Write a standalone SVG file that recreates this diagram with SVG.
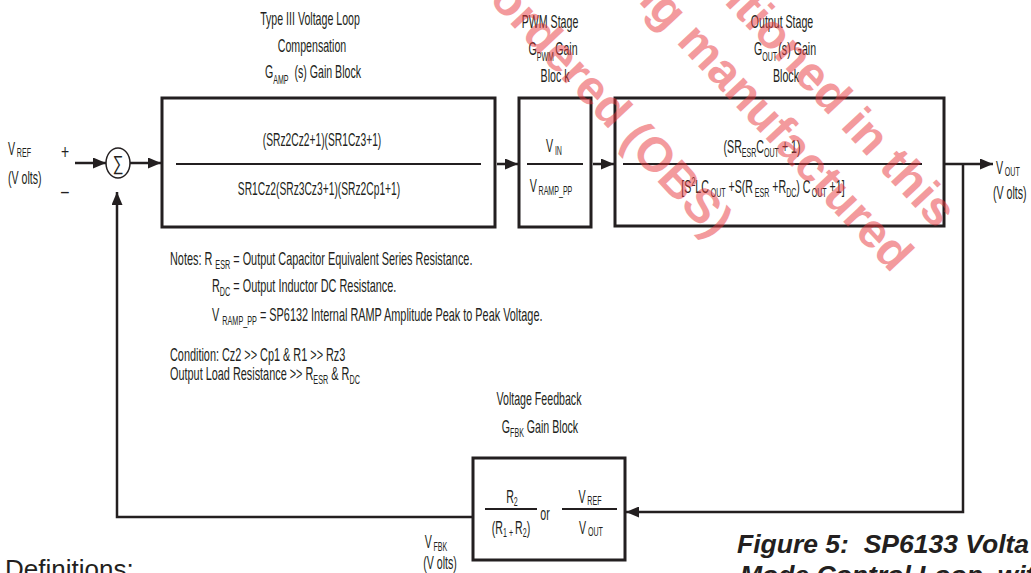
<svg xmlns="http://www.w3.org/2000/svg" width="1031" height="573" viewBox="0 0 1031 573">
<defs>
<style>
.t{font-family:"Liberation Sans",Arial,sans-serif;font-size:18px;fill:#231f20}
.s{font-size:12px}
.box{fill:none;stroke:#231f20;stroke-width:3}
.frac{stroke:#231f20;stroke-width:2}
.con{fill:none;stroke:#231f20;stroke-width:2.5}
.cap{font-family:"Liberation Sans",Arial,sans-serif;font-size:26.5px;font-weight:bold;font-style:italic;fill:#231f20}
.wm{font-family:"Liberation Sans",Arial,sans-serif;font-size:48px;font-weight:bold;fill:#e8383d;opacity:0.5}
</style>
<marker id="ah" markerUnits="userSpaceOnUse" markerWidth="13" markerHeight="11" refX="13" refY="5.5" orient="auto">
<path d="M0,0 L13,5.5 L0,11 z" fill="#231f20"/>
</marker>
</defs>
<rect width="1031" height="573" fill="#fff"/>

<g id="connectors">
<path class="con" d="M75,163 H106" marker-end="url(#ah)"/>
<path class="con" d="M130,163 H161" marker-end="url(#ah)"/>
<path class="con" d="M497,164 H518" marker-end="url(#ah)"/>
<path class="con" d="M593,164 H614" marker-end="url(#ah)"/>
<path class="con" d="M945,164 H993" marker-end="url(#ah)"/>
<path class="con" d="M963,164 V512 H626" marker-end="url(#ah)"/>
<path class="con" d="M473,517 H117 V192" marker-end="url(#ah)"/>
</g>

<g id="inputs">
<text class="t" transform="translate(8,155) scale(0.59,1)">V<tspan class="s" dx="3" dy="2">REF</tspan></text>
<text class="t" transform="translate(8,184) scale(0.59,1)">(V olts)</text>
<text class="t" transform="translate(65,159) scale(0.7,1)" text-anchor="middle" style="font-size:20px">+</text>
<text class="t" transform="translate(65,198) scale(0.7,1)" text-anchor="middle" style="font-size:20px">–</text>
</g>

<g id="sum">
<ellipse cx="118" cy="163" rx="12" ry="15" fill="#fff" stroke="#231f20" stroke-width="1.5"/>
<text class="t" transform="translate(118,170) scale(0.75,1)" text-anchor="middle" style="font-size:20px">∑</text>
</g>

<g id="compensation">
<text class="t" transform="translate(310,25) scale(0.59,1)" text-anchor="middle">Type III Voltage Loop</text>
<text class="t" transform="translate(312,52) scale(0.59,1)" text-anchor="middle">Compensation</text>
<text class="t" transform="translate(313,78) scale(0.59,1)" text-anchor="middle">G<tspan class="s" dy="6">AMP</tspan><tspan dy="-6" dx="10">(s) Gain Block</tspan></text>
<rect class="box" x="162" y="98" width="333" height="129"/>
<line class="frac" x1="176" y1="164" x2="481" y2="164"/>
<text class="t" transform="translate(322,146) scale(0.57,1)" text-anchor="middle">(SRz2Cz2+1)(SR1Cz3+1)</text>
<text class="t" transform="translate(319,195) scale(0.57,1)" text-anchor="middle">SR1Cz2(SRz3Cz3+1)(SRz2Cp1+1)</text>
</g>

<g id="pwm">
<text class="t" transform="translate(550,28) scale(0.59,1)" text-anchor="middle">PWM Stage</text>
<text class="t" transform="translate(553,55) scale(0.59,1)" text-anchor="middle">G<tspan class="s" dy="6">PWM</tspan><tspan dy="-6" dx="2">Gain</tspan></text>
<text class="t" transform="translate(555,82) scale(0.59,1)" text-anchor="middle">Bloc k</text>
<rect class="box" x="519" y="98" width="72" height="129"/>
<line class="frac" x1="527" y1="164" x2="583" y2="164"/>
<text class="t" transform="translate(554,152) scale(0.59,1)" text-anchor="middle">V<tspan class="s" dx="3" dy="3">IN</tspan></text>
<text class="t" transform="translate(551,192) scale(0.59,1)" text-anchor="middle">V<tspan class="s" dx="3" dy="3">RAMP_PP</tspan></text>
</g>

<g id="output">
<text class="t" transform="translate(782,28) scale(0.59,1)" text-anchor="middle">Output Stage</text>
<text class="t" transform="translate(785,55) scale(0.59,1)" text-anchor="middle">G<tspan class="s" dy="6">OUT</tspan><tspan dy="-6" dx="2">(s) Gain</tspan></text>
<text class="t" transform="translate(786,82) scale(0.59,1)" text-anchor="middle">Block</text>
<rect class="box" x="615" y="98" width="329" height="128"/>
<line class="frac" x1="623" y1="164" x2="922" y2="164"/>
<text class="t" transform="translate(762,153) scale(0.59,1)" text-anchor="middle">(SR<tspan class="s" dy="4">ESR</tspan><tspan dy="-4">C</tspan><tspan class="s" dy="4">OUT</tspan><tspan dy="-4"> + 1)</tspan></text>
<text class="t" transform="translate(763,193) scale(0.59,1)" text-anchor="middle">[S<tspan class="s" dy="-7">2</tspan><tspan dy="7">LC</tspan><tspan class="s" dx="3" dy="4">OUT</tspan><tspan dy="-4"> +S(R</tspan><tspan class="s" dx="3" dy="4">ESR</tspan><tspan dy="-4"> +R</tspan><tspan class="s" dy="4">DC</tspan><tspan dy="-4">) C</tspan><tspan class="s" dx="2" dy="4">OUT</tspan><tspan dy="-4"> +1]</tspan></text>
</g>

<g id="vout">
<text class="t" transform="translate(996,174) scale(0.59,1)">V<tspan class="s" dx="3" dy="2">OUT</tspan></text>
<text class="t" transform="translate(993,199) scale(0.59,1)">(V olts)</text>
</g>

<g id="notes">
<text class="t" transform="translate(170,265) scale(0.605,1)">Notes: R <tspan class="s" dy="4">ESR</tspan><tspan dy="-4"> = Output Capacitor Equivalent Series Resistance.</tspan></text>
<text class="t" transform="translate(212,292) scale(0.605,1)">R<tspan class="s" dy="4">DC</tspan><tspan dy="-4"> = Output Inductor DC Resistance.</tspan></text>
<text class="t" transform="translate(212,321) scale(0.605,1)">V <tspan class="s" dy="4">RAMP_PP</tspan><tspan dy="-4" dx="5">= SP6132 Internal RAMP Amplitude Peak to Peak Voltage.</tspan></text>
<text class="t" transform="translate(170,361) scale(0.605,1)">Condition: Cz2 &gt;&gt; Cp1 &amp; R1 &gt;&gt; Rz3</text>
<text class="t" transform="translate(170,380) scale(0.605,1)">Output Load Resistance &gt;&gt; R<tspan class="s" dy="4">ESR</tspan><tspan dy="-4"> &amp; R</tspan><tspan class="s" dy="4">DC</tspan></text>
</g>

<g id="feedback">
<text class="t" transform="translate(539,405) scale(0.59,1)" text-anchor="middle">Voltage Feedback</text>
<text class="t" transform="translate(540,433) scale(0.59,1)" text-anchor="middle">G<tspan class="s" dy="4">FBK</tspan><tspan dy="-4"> Gain Block</tspan></text>
<rect class="box" x="473" y="458" width="152" height="102"/>
<text class="t" transform="translate(512,503) scale(0.59,1)" text-anchor="middle">R<tspan class="s" dy="3">2</tspan></text>
<line class="frac" x1="485" y1="509" x2="537" y2="509"/>
<text class="t" transform="translate(511,534) scale(0.59,1)" text-anchor="middle">(R<tspan class="s" dy="3">1 + </tspan><tspan dy="-3">R</tspan><tspan class="s" dy="3">2</tspan><tspan dy="-3">)</tspan></text>
<text class="t" transform="translate(545,520) scale(0.59,1)" text-anchor="middle">or</text>
<text class="t" transform="translate(590,503) scale(0.59,1)" text-anchor="middle">V<tspan class="s" dx="3" dy="2">REF</tspan></text>
<line class="frac" x1="562" y1="509" x2="617" y2="509"/>
<text class="t" transform="translate(591,534) scale(0.59,1)" text-anchor="middle">V<tspan class="s" dx="3" dy="2">OUT</tspan></text>
<text class="t" transform="translate(436,548) scale(0.59,1)" text-anchor="middle">V<tspan class="s" dx="3" dy="3">FBK</tspan></text>
<text class="t" transform="translate(440,569) scale(0.59,1)" text-anchor="middle">(V olts)</text>
</g>

<g id="caption">
<text class="cap" x="737" y="553">Figure 5:&#160; SP6133 Volta</text>
<text class="cap" x="740" y="584">Mode Control Loop&#160; wit</text>
<text x="5" y="578" style="font-family:'Liberation Sans',Arial,sans-serif;font-size:26px;fill:#231f20">Definitions:</text>
</g>

<g id="watermark">
<text class="wm" transform="translate(936,230) rotate(47)" text-anchor="end">mentioned in this</text>
<text class="wm" transform="translate(892,274) rotate(47)" text-anchor="end">being manufactured</text>
<text class="wm" transform="translate(712,240) rotate(47)" text-anchor="end">ordered (OBS)</text>
</g>
</svg>
